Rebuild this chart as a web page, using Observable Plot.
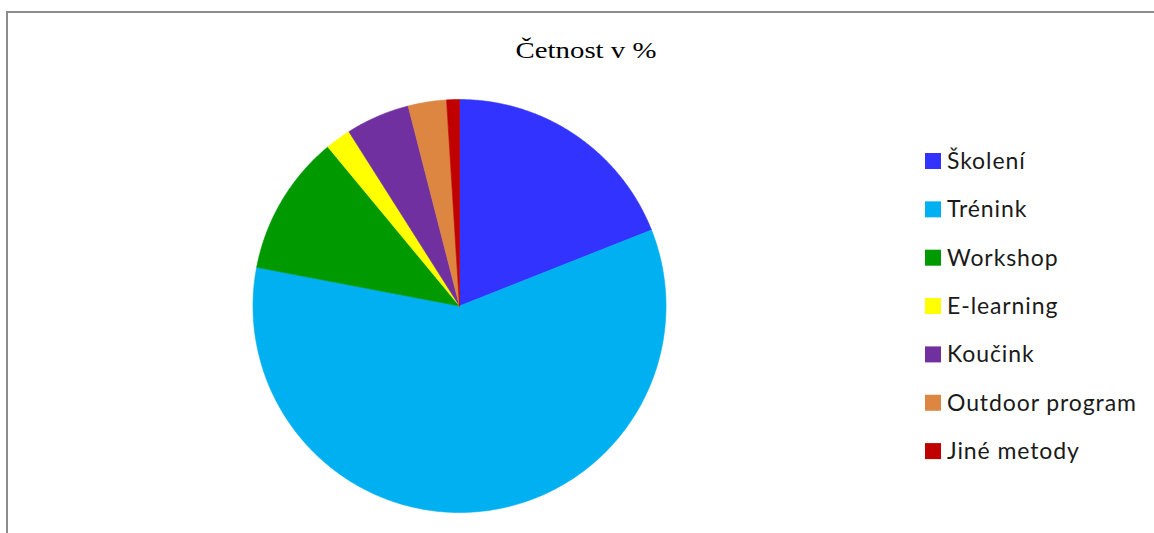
<!DOCTYPE html>
<html>
<head>
<meta charset="utf-8">
<script src="https://cdn.jsdelivr.net/npm/d3@7"></script>
<script src="https://cdn.jsdelivr.net/npm/@observablehq/plot@0.6"></script>
<style>
  html, body { margin: 0; padding: 0; background: #fff; }
  #wrap { position: relative; width: 1154px; height: 533px; overflow: hidden; background: #fff; }
  #frame { position: absolute; left: 6px; top: 11px; width: 1200px; height: 600px;
           border-left: 2px solid #8c8c8c; border-top: 2px solid #8c8c8c; }
  #chart { position: absolute; left: 0; top: 0; }
  #overlay { position: absolute; left: 0; top: 0; }
</style>
</head>
<body>
<div id="wrap">
  <div id="frame"></div>
  <div id="chart"></div>
  <svg id="overlay" width="1154" height="533"></svg>
</div>
<script>
const title = "Četnost v %";
const categories = ["Školení", "Trénink", "Workshop", "E-learning", "Koučink", "Outdoor program", "Jiné metody"];
const values = [19, 59, 11, 2, 5, 3, 1];
const colors = ["#3333ff", "#00b0f0", "#009900", "#ffff00", "#7030a0", "#dc8641", "#c00000"];

const table = categories.map((c, i) => ({cat: c, value: values[i]}));
const arcs = d3.pie().sort(null).value(d => d.value)(table);

// wedge outlines in unit-circle coordinates (geometry only)
const rows = [];
for (const a of arcs) {
  rows.push({cat: a.data.cat, x: 0, y: 0});
  const n = Math.max(2, Math.ceil((a.endAngle - a.startAngle) / (Math.PI / 360)));
  for (let k = 0; k <= n; k++) {
    const t = a.startAngle + (a.endAngle - a.startAngle) * k / n;
    rows.push({cat: a.data.cat, x: Math.sin(t), y: Math.cos(t)});
  }
  rows.push({cat: a.data.cat, x: 0, y: 0});
}

const cx = 459, cy = 305.5, r = 206.5;
const chart = Plot.plot({
  width: 1154,
  height: 533,
  margin: 0,
  x: {domain: [-1, 1], range: [cx - r, cx + r], axis: null},
  y: {domain: [-1, 1], range: [cy + r, cy - r], axis: null},
  color: {domain: categories, range: colors},
  style: {background: "transparent"},
  marks: [
    Plot.line(rows, {x: "x", y: "y", z: "cat", fill: "cat", stroke: "cat", strokeWidth: 0.6, curve: "linear"})
  ]
});
document.getElementById("chart").appendChild(chart);

const svg = d3.select("#overlay");
// title
svg.append("text")
  .attr("transform", "translate(586,58) scale(1.2,1)")
  .attr("text-anchor", "middle")
  .attr("font-family", "'Liberation Serif', 'Times New Roman', serif")
  .attr("font-size", 24)
  .attr("fill", "#000")
  .text(title);

// legend
const lg = svg.append("g");
categories.forEach((c, i) => {
  const base = 169 + i * 48.35;
  lg.append("rect")
    .attr("x", 925).attr("y", base - 16).attr("width", 16).attr("height", 16)
    .attr("fill", colors[i]);
  lg.append("text")
    .attr("x", 947).attr("y", base)
    .attr("font-family", "Lato, 'Noto Sans', sans-serif")
    .attr("font-size", 23)
    .attr("letter-spacing", 0.9)
    .attr("fill", "#1a1a1a")
    .text(c);
});
</script>
</body>
</html>
